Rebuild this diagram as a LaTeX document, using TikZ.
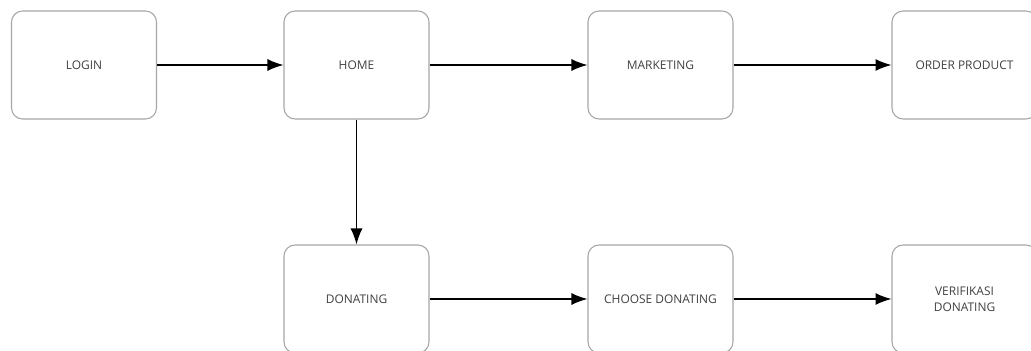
\documentclass[tikz,border=0pt]{standalone}
\usepackage{fontspec}
\setmainfont{Open Sans}
\usetikzlibrary{arrows.meta}

\begin{document}
\begin{tikzpicture}[x=0.02cm,y=-0.02cm,
  screen/.style={draw=gray!70,line width=0.6pt,rounded corners=0.22cm,
    minimum width=2.9cm,minimum height=2.16cm,align=center,
    text=black!75,font=\fontsize{6.8}{9}\selectfont},
  flow/.style={-{Latex[length=0.32cm,width=0.24cm]},line width=0.8pt}]
\useasboundingbox (0,0) rectangle (1031,351);
\clip (0,0) rectangle (1031,351);
\node[screen] (login) at (84,65) {LOGIN};
\node[screen] (home) at (356.5,65) {HOME};
\node[screen] (marketing) at (660.5,65) {MARKETING};
\node[screen] (order) at (964.5,65) {ORDER PRODUCT};
\node[screen] (donating) at (356.5,299) {DONATING};
\node[screen] (choose) at (660.5,299) {CHOOSE DONATING};
\node[screen] (verif) at (964.5,299) {VERIFIKASI\\DONATING};
\draw[flow] (login) -- (home);
\draw[flow] (home) -- (marketing);
\draw[flow] (marketing) -- (order);
\draw[flow] (home) -- (donating);
\draw[flow] (donating) -- (choose);
\draw[flow] (choose) -- (verif);
\end{tikzpicture}
\end{document}
